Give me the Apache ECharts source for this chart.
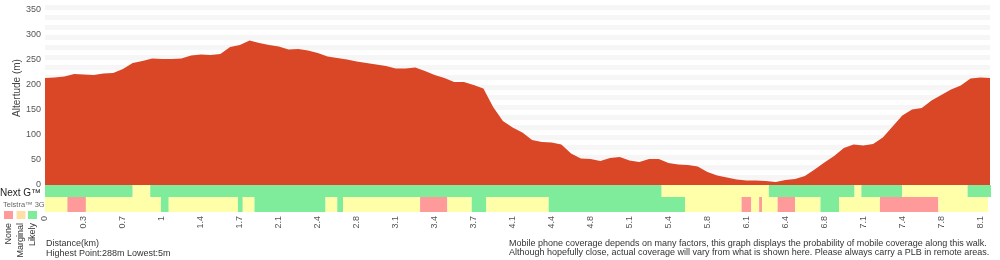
<!DOCTYPE html>
<html>
<head>
<meta charset="utf-8">
<script src="https://cdn.jsdelivr.net/npm/echarts@6/dist/echarts.min.js"></script>
<style>
  html, body { margin: 0; padding: 0; background: #fff; }
  #chart { width: 1000px; height: 260px; }
</style>
</head>
<body>
<div id="chart"></div>
<script>
// distance labels, one every 4 samples
const tickLabels = ['0', '0.3', '0.7', '1', '1.4', '1.7', '2.1', '2.4', '2.8', '3.1', '3.4', '3.7',
  '4.1', '4.4', '4.8', '5.1', '5.4', '5.8', '6.1', '6.4', '6.8', '7.1', '7.4', '7.8', '8.1'];

// altitude (m) per sample along the walk
const elevation = [
  214, 215, 217, 222, 221, 220, 223, 224, 232, 244,
  248, 253, 252, 252, 253, 259, 261, 260, 262, 276,
  280, 289, 284, 280, 277, 271, 272, 269, 264, 257,
  254, 251, 247, 244, 241, 238, 233, 233, 235, 228,
  220, 214, 206, 206, 200, 193, 156, 128, 115, 105,
  90, 86, 85, 81, 63, 53, 52, 48, 54, 56,
  49, 46, 52, 52, 44, 41, 40, 37, 26, 19,
  15, 11, 9, 9, 8, 6, 10, 12, 18, 31,
  45, 58, 74, 81, 79, 82, 95, 117, 139, 151,
  154, 169, 180, 191, 199, 213, 215, 214
];

// coverage segments: [start sample, end sample, level] level 0 none, 1 marginal, 2 likely
const nextG = [
  [0, 9.0, 2], [9.0, 10.8, 1], [10.8, 63.3, 2], [63.3, 74.3, 1], [74.3, 83.1, 2],
  [83.1, 83.8, 1], [83.8, 88.0, 2], [88.0, 94.7, 1], [94.7, 97.1, 2]
];
const telstra3G = [
  [0, 2.3, 1], [2.3, 4.2, 0], [4.2, 11.9, 1], [11.9, 12.7, 2], [12.7, 19.8, 1],
  [19.8, 20.3, 2], [20.3, 21.5, 1], [21.5, 28.8, 2], [28.8, 30.0, 1], [30.0, 30.6, 2],
  [30.6, 38.5, 1], [38.5, 41.3, 0], [41.3, 43.8, 1], [43.8, 45.3, 2], [45.3, 51.7, 1],
  [51.7, 65.7, 2], [65.7, 71.5, 1], [71.5, 72.5, 0], [72.5, 73.3, 1], [73.3, 73.6, 0],
  [73.6, 75.2, 1], [75.2, 77.0, 0], [77.0, 79.6, 1], [79.6, 81.5, 2], [81.5, 85.7, 1],
  [85.7, 91.7, 0], [91.7, 96.8, 1]
];

const levelNames = ['None', 'Marginal', 'Likely'];
const levelColors = ['#ff9a9a', '#ffffaa', '#7eec9a'];
const legendColors = ['#ff9a9a', '#fde0a5', '#7eec9a'];

const FONT = '"Liberation Sans", Arial, sans-serif';
const lastSample = elevation.length - 1;

const chart = echarts.init(document.getElementById('chart'));

function coverageSeries(segments, idx) {
  return {
    type: 'custom',
    xAxisIndex: idx,
    yAxisIndex: idx,
    data: segments,
    silent: true,
    renderItem: function (params, api) {
      const a = api.coord([api.value(0), 1]);
      const b = api.coord([api.value(1), 0]);
      return {
        type: 'rect',
        shape: { x: a[0], y: a[1], width: b[0] - a[0], height: b[1] - a[1] },
        style: { fill: levelColors[api.value(2)] }
      };
    }
  };
}

const graphic = [
  { type: 'text', x: 17, y: 88, rotation: Math.PI / 2,
    style: { text: 'Altertude (m)', fill: '#444', fontSize: 10, fontFamily: FONT, align: 'center', verticalAlign: 'middle' } },
  { type: 'text', x: 0, y: 193.5,
    style: { text: 'Next G™', fill: '#222', fontSize: 10, fontFamily: FONT, verticalAlign: 'middle' } },
  { type: 'text', x: 3, y: 205,
    style: { text: 'Telstra™ 3G', fill: '#666', fontSize: 7.5, fontFamily: FONT, verticalAlign: 'middle' } },
  { type: 'text', x: 46, y: 244,
    style: { text: 'Distance(km)', fill: '#333', fontSize: 9, fontFamily: FONT, verticalAlign: 'middle' } },
  { type: 'text', x: 46, y: 253.5,
    style: { text: 'Highest Point:288m Lowest:5m', fill: '#333', fontSize: 9, fontFamily: FONT, verticalAlign: 'middle' } },
  { type: 'text', x: 509, y: 244,
    style: { text: 'Mobile phone coverage depends on many factors, this graph displays the probability of mobile coverage along this walk.', fill: '#333', fontSize: 9, fontFamily: FONT, verticalAlign: 'middle' } },
  { type: 'text', x: 509, y: 252.5,
    style: { text: 'Although hopefully close, actual coverage will vary from what is shown here. Please always carry a PLB in remote areas.', fill: '#333', fontSize: 9, fontFamily: FONT, verticalAlign: 'middle' } }
];

const legendX = [4, 16.5, 28];
levelNames.forEach(function (name, i) {
  graphic.push({ type: 'rect', shape: { x: legendX[i], y: 211, width: 9, height: 8 }, style: { fill: legendColors[i] } });
  graphic.push({ type: 'text', x: legendX[i] + 4.5, y: 223, rotation: Math.PI / 2,
    style: { text: name, fill: '#333', fontSize: 9, fontFamily: FONT, align: 'right', verticalAlign: 'middle' } });
});

const option = {
  animation: false,
  grid: [
    { left: 45, right: 10, top: 5, height: 180 },
    { left: 45, right: 10, top: 185, height: 12 },
    { left: 45, right: 10, top: 197, height: 15 }
  ],
  xAxis: [
    { type: 'category', gridIndex: 0, boundaryGap: false, data: elevation.map(function (_, i) { return i; }),
      axisLine: { show: false }, axisTick: { show: false }, axisLabel: { show: false } },
    { type: 'value', gridIndex: 1, min: 0, max: lastSample, show: false },
    { type: 'value', gridIndex: 2, min: 0, max: lastSample, interval: 4,
      axisLine: { show: false }, axisTick: { show: false }, splitLine: { show: false },
      axisLabel: {
        rotate: 90, margin: 4, fontSize: 9, color: '#555', fontFamily: FONT, showMaxLabel: false,
        formatter: function (v) { return v % 4 === 0 && tickLabels[v / 4] !== undefined ? tickLabels[v / 4] : ''; }
      } }
  ],
  yAxis: [
    { type: 'value', gridIndex: 0, min: 0, max: 360, interval: 10,
      axisLine: { show: false }, axisTick: { show: false }, splitLine: { show: false },
      splitArea: { show: true, areaStyle: { color: ['#ffffff', '#f6f6f6'] } },
      axisLabel: { margin: 4, fontSize: 9, color: '#555', fontFamily: FONT,
        formatter: function (v) { return v % 50 === 0 && v <= 350 ? String(v) : ''; } } },
    { type: 'value', gridIndex: 1, min: 0, max: 1, show: false },
    { type: 'value', gridIndex: 2, min: 0, max: 1, show: false }
  ],
  series: [
    { type: 'line', xAxisIndex: 0, yAxisIndex: 0, data: elevation, symbol: 'none', silent: true,
      lineStyle: { width: 0 }, areaStyle: { color: '#d94727', opacity: 1 } },
    coverageSeries(nextG, 1),
    coverageSeries(telstra3G, 2)
  ],
  graphic: graphic
};

chart.setOption(option);
</script>
</body>
</html>
